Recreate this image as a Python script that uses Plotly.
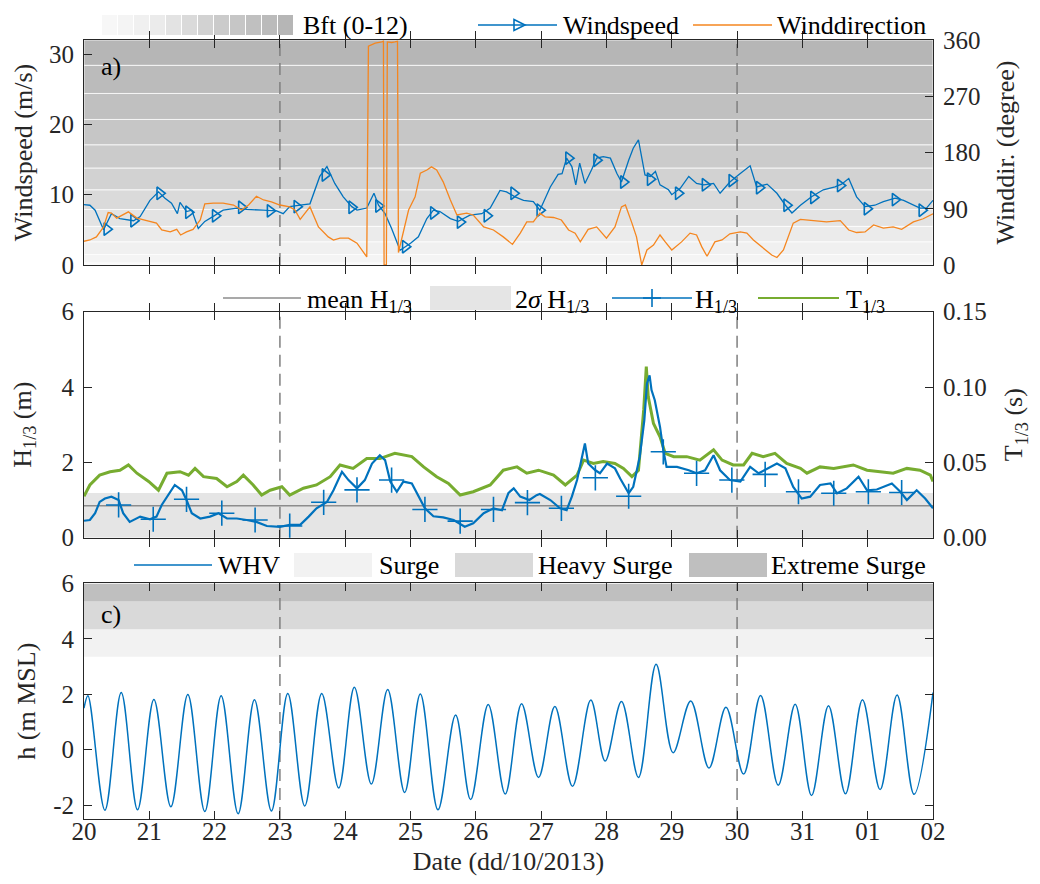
import numpy as np
import pandas as pd
import plotly.graph_objects as go

# ---------------------------------------------------------------- data
START = pd.Timestamp("2013-10-20")
END = pd.Timestamp("2013-11-02")
event_days = [3.0, 10.0]          # dashed vertical lines (23/10 and 30/10)

# a) wind speed (m/s), time in days after 20/10/2013 00:00
ws_day = [0.00, 0.09, 0.17, 0.30, 0.42, 0.55, 0.76, 0.86, 1.01, 1.14,
          1.24, 1.34, 1.43, 1.47, 1.57, 1.65, 1.75, 1.85, 2.01, 2.13,
          2.34, 2.49, 2.75, 2.95, 3.05, 3.15, 3.31, 3.46, 3.61, 3.72,
          3.84, 3.97, 4.10, 4.18, 4.33, 4.44, 4.51, 4.61, 4.71, 4.84,
          5.00, 5.12, 5.25, 5.35, 5.45, 5.61, 5.73, 5.91, 6.09, 6.22,
          6.37, 6.47, 6.60, 6.73, 6.88, 6.98, 7.14, 7.26, 7.32, 7.39,
          7.47, 7.53, 7.59, 7.67, 7.77, 7.85, 7.95, 8.06, 8.16, 8.23,
          8.34, 8.41, 8.49, 8.59, 8.67, 8.75, 8.82, 8.95, 9.00, 9.13,
          9.26, 9.38, 9.49, 9.64, 9.74, 9.89, 10.02, 10.12, 10.20, 10.30,
          10.46, 10.61, 10.74, 10.84, 10.97, 11.14, 11.32, 11.50, 11.60, 11.71,
          11.83, 11.96, 12.11, 12.24, 12.42, 12.55, 12.80, 12.90, 13.00]
ws_val = [8.6, 8.5, 7.8, 5.0, 7.3, 6.6, 6.3, 6.9, 9.2, 10.4,
          9.5, 8.8, 7.3, 8.9, 7.6, 7.8, 5.2, 6.2, 7.1, 7.8,
          8.1, 7.9, 7.8, 7.7, 7.3, 8.3, 8.5, 8.7, 12.6, 14.0,
          11.6, 9.7, 8.3, 7.8, 8.1, 10.2, 8.5, 7.3, 5.2, 2.1,
          3.1, 4.0, 6.6, 7.8, 7.6, 6.6, 6.2, 7.1, 7.3, 8.1,
          10.6, 10.4, 9.7, 9.2, 9.0, 7.8, 11.1, 12.9, 13.0, 15.2,
          14.0, 11.4, 14.5, 11.6, 13.5, 15.2, 15.4, 15.2, 13.0, 11.8,
          14.9, 16.6, 17.8, 12.8, 12.6, 13.3, 11.4, 10.7, 10.0, 10.9,
          12.6, 11.6, 11.4, 11.6, 10.2, 11.8, 12.8, 13.5, 14.1, 11.1,
          11.5, 10.2, 8.5, 7.4, 8.5, 9.7, 10.7, 11.1, 11.5, 12.3,
          9.7, 8.3, 8.5, 9.0, 9.5, 9.2, 8.1, 8.1, 9.2]
ws_mark_day = [0.35, 0.76, 1.16, 1.60, 2.01, 2.41, 2.85, 3.26, 3.69, 4.10,
               4.51, 4.92, 5.35, 5.76, 6.17, 6.58, 6.98, 7.42, 7.85, 8.26,
               8.67, 9.10, 9.51, 9.92, 10.34, 10.76, 11.17, 11.58, 11.99, 12.42,
               12.83]
ws_mark_val = [5.1, 6.3, 10.2, 7.5, 7.0, 8.2, 7.7, 8.3, 12.8, 8.2,
               8.4, 2.6, 7.4, 6.1, 7.0, 10.2, 7.8, 15.2, 14.9, 11.8,
               12.2, 10.2, 11.4, 12.0, 11.0, 8.5, 9.6, 11.3, 8.0, 9.3,
               7.8]

# a) wind direction (degree)
wd_day = [0.00, 0.09, 0.19, 0.30, 0.37, 0.42, 0.50, 0.60, 0.68, 0.81,
          0.96, 1.11, 1.19, 1.32, 1.42, 1.48, 1.57, 1.67, 1.78, 1.85,
          1.98, 2.13, 2.29, 2.41, 2.52, 2.64, 2.75, 2.87, 3.00, 3.15,
          3.23, 3.31, 3.46, 3.59, 3.74, 3.82, 3.92, 4.05, 4.18, 4.28,
          4.33, 4.355, 4.46, 4.56, 4.585, 4.595, 4.63, 4.645, 4.71, 4.76,
          4.80, 4.815, 4.89, 4.97, 5.07, 5.15, 5.25, 5.32, 5.40, 5.50,
          5.61, 5.71, 5.86, 5.96, 6.12, 6.27, 6.42, 6.56, 6.68, 6.78,
          6.88, 6.98, 7.06, 7.19, 7.31, 7.42, 7.52, 7.60, 7.72, 7.85,
          8.00, 8.13, 8.23, 8.29, 8.39, 8.46, 8.54, 8.62, 8.72, 8.82,
          8.90, 9.00, 9.15, 9.28, 9.38, 9.46, 9.54, 9.66, 9.77, 9.89,
          10.05, 10.15, 10.25, 10.40, 10.53, 10.61, 10.71, 10.86, 10.97, 11.17,
          11.37, 11.58, 11.71, 11.83, 11.96, 12.09, 12.24, 12.39, 12.52, 12.70,
          12.85, 13.00]
wd_val = [38, 40, 45, 61, 84, 83, 75, 80, 85, 75,
          71, 67, 56, 53, 57, 48, 53, 57, 72, 98,
          99, 99, 96, 88, 96, 110, 104, 101, 96, 93,
          88, 73, 93, 61, 45, 40, 43, 43, 35, 21,
          13, 350, 355, 357, 358, 0, 0, 357, 356, 357,
          358, 20, 51, 88, 109, 147, 152, 157, 152, 133,
          104, 80, 83, 80, 61, 56, 45, 33, 51, 69,
          69, 83, 77, 76, 72, 56, 51, 37, 57, 61,
          43, 61, 93, 96, 67, 45, 0, 24, 32, 48,
          37, 24, 37, 51, 48, 29, 14, 37, 40, 50,
          53, 51, 40, 27, 16, 12, 24, 67, 73, 71,
          69, 71, 56, 52, 53, 64, 59, 61, 57, 69,
          74, 82]

# Beaufort class limits (m/s)
bft_edges = [0.0, 0.3, 1.5, 3.3, 5.5, 7.9, 10.7, 13.8, 17.1, 20.7, 24.4, 28.4, 32.6]
bft_grays = ["#f7f7f7", "#f4f4f4", "#f0f0f0", "#ebebeb", "#e3e3e3", "#dadada",
             "#d2d2d2", "#cbcbcb", "#c6c6c6", "#c0c0c0", "#bbbbbb", "#b6b6b6"]

# b) significant wave height H1/3 (m)
hs_day = [0.00, 0.09, 0.17, 0.24, 0.32, 0.42, 0.53, 0.60, 0.70, 0.86,
          1.01, 1.11, 1.19, 1.29, 1.39, 1.50, 1.57, 1.65, 1.78, 1.93,
          2.06, 2.19, 2.34, 2.49, 2.64, 2.80, 3.00, 3.15, 3.31, 3.44,
          3.56, 3.72, 3.82, 3.95, 4.05, 4.18, 4.30, 4.41, 4.53, 4.61,
          4.69, 4.79, 4.89, 5.02, 5.12, 5.22, 5.35, 5.50, 5.66, 5.83,
          5.96, 6.12, 6.27, 6.40, 6.50, 6.58, 6.68, 6.82, 6.93, 6.98,
          7.14, 7.29, 7.39, 7.47, 7.55, 7.62, 7.67, 7.72, 7.83, 7.90,
          8.01, 8.13, 8.21, 8.34, 8.41, 8.51, 8.58, 8.62, 8.66, 8.69,
          8.74, 8.82, 8.87, 8.92, 9.08, 9.26, 9.38, 9.51, 9.64, 9.74,
          9.89, 10.05, 10.20, 10.33, 10.46, 10.61, 10.74, 10.86, 10.99, 11.12,
          11.27, 11.43, 11.53, 11.68, 11.86, 11.99, 12.14, 12.37, 12.50, 12.60,
          12.75, 12.88, 13.00]
hs_val = [0.45, 0.47, 0.65, 0.95, 1.04, 1.09, 1.00, 0.65, 0.42, 0.56,
          0.49, 0.56, 0.87, 1.13, 1.40, 1.26, 1.00, 0.65, 0.51, 0.56,
          0.65, 0.51, 0.51, 0.47, 0.42, 0.31, 0.29, 0.34, 0.34, 0.56,
          0.78, 0.95, 1.26, 1.75, 1.53, 1.31, 1.53, 1.97, 2.19, 2.06,
          1.49, 1.22, 1.49, 1.44, 1.09, 0.78, 0.57, 0.54, 0.47, 0.29,
          0.38, 0.65, 0.78, 0.73, 1.19, 1.31, 1.09, 1.00, 1.13, 1.16,
          1.00, 0.78, 0.73, 1.09, 1.53, 2.15, 2.50, 1.97, 1.79, 1.71,
          1.97, 1.84, 1.57, 1.18, 1.35, 2.15, 3.12, 4.09, 4.31, 3.92,
          3.65, 2.94, 2.33, 1.88, 1.88, 1.79, 1.71, 1.79, 2.19, 1.79,
          1.53, 1.49, 1.88, 1.71, 1.84, 1.97, 1.84, 1.35, 1.04, 1.09,
          1.40, 1.44, 1.18, 1.31, 1.62, 1.26, 1.28, 1.44, 1.22, 1.00,
          1.26, 1.04, 0.78]
hs_mark_day = [0.53, 1.06, 1.57, 2.11, 2.62, 3.15, 3.67, 4.18, 4.71, 5.22,
               5.76, 6.27, 6.79, 7.31, 7.83, 8.34, 8.87, 9.38, 9.92, 10.43,
               10.94, 11.48, 12.01, 12.52]
hs_mark_val = [0.87, 0.49, 1.02, 0.65, 0.47, 0.31, 0.94, 1.27, 1.53, 0.75,
               0.44, 0.75, 0.93, 0.78, 1.59, 1.10, 2.28, 1.71, 1.53, 1.68,
               1.22, 1.18, 1.22, 1.20]
hs_mean = 0.85
hs_band = [0.0, 1.19]   # shaded 2-sigma band (clipped at the axis)

# b) wave period T1/3 (s)
tp_day = [0.00, 0.09, 0.24, 0.40, 0.55, 0.68, 0.81, 0.99, 1.14, 1.27,
          1.47, 1.60, 1.70, 1.83, 2.03, 2.19, 2.34, 2.44, 2.59, 2.72,
          2.85, 3.03, 3.15, 3.36, 3.56, 3.77, 3.92, 4.12, 4.33, 4.53,
          4.76, 5.02, 5.20, 5.40, 5.58, 5.76, 5.96, 6.22, 6.42, 6.63,
          6.78, 6.96, 7.19, 7.37, 7.55, 7.65, 7.80, 7.95, 8.13, 8.26,
          8.39, 8.49, 8.57, 8.61, 8.64, 8.72, 8.82, 8.90, 9.03, 9.23,
          9.43, 9.64, 9.77, 9.94, 10.10, 10.23, 10.40, 10.58, 10.76, 10.97,
          11.07, 11.27, 11.48, 11.78, 11.99, 12.24, 12.39, 12.60, 12.80, 12.96,
          13.00]
tp_val = [0.0275, 0.0350, 0.0415, 0.0438, 0.0448, 0.0483, 0.0428, 0.0373, 0.0315, 0.0428,
          0.0438, 0.0415, 0.0460, 0.0405, 0.0393, 0.0338, 0.0373, 0.0415, 0.0350, 0.0283,
          0.0315, 0.0338, 0.0283, 0.0328, 0.0350, 0.0405, 0.0483, 0.0460, 0.0525, 0.0525,
          0.0560, 0.0538, 0.0470, 0.0405, 0.0360, 0.0283, 0.0305, 0.0350, 0.0448, 0.0470,
          0.0428, 0.0448, 0.0415, 0.0350, 0.0415, 0.0515, 0.0493, 0.0505, 0.0493, 0.0460,
          0.0405, 0.0448, 0.0848, 0.1135, 0.0935, 0.0758, 0.0670, 0.0560, 0.0538, 0.0538,
          0.0515, 0.0583, 0.0515, 0.0483, 0.0483, 0.0560, 0.0538, 0.0560, 0.0493, 0.0460,
          0.0428, 0.0470, 0.0460, 0.0483, 0.0448, 0.0438, 0.0428, 0.0460, 0.0448, 0.0415,
          0.0373]

# c) water level WHV (m MSL): high and low waters
wl_day = [0.00, 0.06, 0.32, 0.57, 0.82, 1.07, 1.33, 1.59, 1.85, 2.10,
          2.36, 2.61, 2.87, 3.12, 3.38, 3.64, 3.90, 4.14, 4.40, 4.65,
          4.91, 5.15, 5.42, 5.69, 5.92, 6.19, 6.45, 6.70, 6.96, 7.21,
          7.48, 7.76, 7.98, 8.23, 8.49, 8.76, 9.02, 9.29, 9.57, 9.83,
          10.10, 10.36, 10.63, 10.89, 11.14, 11.40, 11.66, 11.92, 12.19, 12.45,
          12.71, 13.00]
wl_val = [1.50, 1.95, -2.18, 2.06, -2.17, 1.81, -2.06, 1.99, -2.23, 1.95,
          -2.31, 1.80, -2.21, 2.03, -2.03, 2.03, -1.38, 2.25, -1.24, 2.17,
          -1.54, 2.01, -2.17, 1.25, -1.80, 1.63, -1.60, 1.66, -1.00, 1.56,
          -1.32, 1.79, -0.41, 1.74, -1.00, 3.08, -0.11, 1.76, -0.66, 1.53,
          -0.88, 1.96, -1.28, 1.64, -1.65, 1.59, -1.59, 1.80, -1.44, 1.97,
          -1.61, 2.06]
surge_names = ["Surge", "Heavy Surge", "Extreme Surge"]
surge_lo = [3.35, 4.35, 5.35]
surge_hi = [4.35, 5.35, 6.00]
surge_grays = ["#f2f2f2", "#d9d9d9", "#bfbfbf"]

for a_, b_ in [(ws_day, ws_val), (ws_mark_day, ws_mark_val), (wd_day, wd_val),
               (hs_day, hs_val), (hs_mark_day, hs_mark_val), (tp_day, tp_val),
               (wl_day, wl_val)]:
    assert len(a_) == len(b_), (len(a_), len(b_))


def to_time(days):
    return START + pd.to_timedelta(np.asarray(days, dtype=float), unit="D")


# ---------------------------------------------------------------- style
FONT = "Liberation Serif"
INK = "#262626"
BLUE = "#0072BD"
ORANGE = "#F5861F"
GREEN = "#77AC30"
DASH = "#7f7f7f"
TICK_SIZE = 25
LAB_SIZE = 26

# the page body adds an 8 px margin; layout is specified in page pixels
OFF = 8
W, H = 1024, 868
L, R, T, B = 84 - OFF, 933 - OFF, 40 - OFF, 819 - OFF


def PX(x):          # page pixel -> paper x
    return (x - OFF - L) / (R - L)


def PY(y):          # page pixel -> paper y
    return (B - (y - OFF)) / (B - T)


dom_a = [PY(265), 1.0]
dom_b = [PY(537.7), PY(311.7)]
dom_c = [0.0, PY(583.4)]

fig = go.Figure()

# a) wind speed + direction
fig.add_trace(go.Scatter(x=to_time(ws_day), y=ws_val, mode="lines",
                         line=dict(color=BLUE, width=1.3), xaxis="x", yaxis="y",
                         name="Windspeed", showlegend=False))
fig.add_trace(go.Scatter(x=to_time(ws_mark_day), y=ws_mark_val, mode="markers",
                         marker=dict(symbol="triangle-right-open", size=11, color=BLUE,
                                     line=dict(width=1.6, color=BLUE)),
                         xaxis="x", yaxis="y", showlegend=False, hoverinfo="skip"))
fig.add_trace(go.Scatter(x=to_time(wd_day), y=wd_val, mode="lines",
                         line=dict(color=ORANGE, width=1.3), xaxis="x", yaxis="y2",
                         name="Winddirection", showlegend=False))

# b) T1/3 (base, right axis) and H1/3 (overlay, left axis)
fig.add_trace(go.Scatter(x=to_time(tp_day), y=tp_val, mode="lines",
                         line=dict(color=GREEN, width=3), xaxis="x2", yaxis="y3",
                         name="T1/3", showlegend=False))
fig.add_trace(go.Scatter(x=to_time(hs_day), y=hs_val, mode="lines",
                         line=dict(color=BLUE, width=2.2), xaxis="x2", yaxis="y4",
                         name="H1/3", showlegend=False))
fig.add_trace(go.Scatter(x=to_time(hs_mark_day), y=hs_mark_val, mode="markers",
                         marker=dict(symbol="cross-thin-open", size=18, color=BLUE,
                                     line=dict(width=1.6, color=BLUE)),
                         xaxis="x2", yaxis="y4", showlegend=False, hoverinfo="skip"))

# c) water level
fig.add_trace(go.Scatter(x=to_time(wl_day), y=wl_val, mode="lines",
                         line=dict(color=BLUE, width=1.5, shape="spline", smoothing=1.0),
                         xaxis="x3", yaxis="y5", name="WHV", showlegend=False))

shapes = []
# Beaufort background bands
for i, g in enumerate(bft_grays):
    shapes.append(dict(type="rect", xref="x domain", yref="y", x0=0, x1=1,
                       y0=bft_edges[i], y1=min(bft_edges[i + 1], 32),
                       fillcolor=g, line=dict(color="rgba(255,255,255,0.75)", width=1),
                       layer="below"))
# 2 sigma band and mean in b)
shapes.append(dict(type="rect", xref="x2 domain", yref="y4", x0=0, x1=1,
                   y0=hs_band[0], y1=hs_band[1], fillcolor="#e5e5e5",
                   line=dict(width=0), layer="below"))
shapes.append(dict(type="line", xref="x2 domain", yref="y4", x0=0, x1=1,
                   y0=hs_mean, y1=hs_mean, line=dict(color="#8c8c8c", width=1.5),
                   layer="below"))
# surge bands in c)
for lo, hi, g in zip(surge_lo, surge_hi, surge_grays):
    shapes.append(dict(type="rect", xref="x3 domain", yref="y5", x0=0, x1=1,
                       y0=lo, y1=hi, fillcolor=g, line=dict(width=0), layer="below"))
# dashed event lines
for d in event_days:
    t = to_time([d])[0]
    for xr, yr in [("x", "y domain"), ("x2", "y3 domain"), ("x3", "y5 domain")]:
        shapes.append(dict(type="line", xref=xr, yref=yr, x0=t, x1=t, y0=0, y1=1,
                           line=dict(color=DASH, width=1.5, dash="12px,7px"),
                           layer="below"))

# ---------------------------------------------------------------- manual legends
annotations = []


def leg_text(x, y, text):
    annotations.append(dict(xref="paper", yref="paper", x=PX(x), y=PY(y), text=text,
                            showarrow=False, xanchor="left", yanchor="middle",
                            font=dict(family=FONT, size=LAB_SIZE, color="black")))


def leg_line(x0, x1, y0, color, width, y1=None):
    shapes.append(dict(type="line", xref="paper", yref="paper", x0=PX(x0), x1=PX(x1),
                       y0=PY(y0), y1=PY(y0 if y1 is None else y1),
                       line=dict(color=color, width=width)))


def leg_box(x0, x1, y0, y1, color):
    shapes.append(dict(type="rect", xref="paper", yref="paper", x0=PX(x0), x1=PX(x1),
                       y0=PY(y1), y1=PY(y0), fillcolor=color, line=dict(width=0)))


# legend a)
for i, g in enumerate(bft_grays):
    leg_box(102 + i * 16, 102 + (i + 1) * 16 - 1, 15, 35, g)
leg_text(301, 25, "Bft (0-12)")
leg_line(478, 557, 25, BLUE, 1.3)
shapes.append(dict(type="path", xref="paper", yref="paper",
                   path=f"M {PX(514)},{PY(19.5)} L {PX(525)},{PY(25)} L {PX(514)},{PY(30.5)} Z",
                   line=dict(color=BLUE, width=1.6)))
leg_text(561, 25, "Windspeed")
leg_line(693, 772, 25, ORANGE, 1.3)
leg_text(775, 25, "Winddirection")

# legend b)
yb = 298
leg_line(223, 301, yb, "#8c8c8c", 1.5)
leg_text(305, yb + 3, "mean H<sub>1/3</sub>")
leg_box(430, 511, 286, 310, "#e5e5e5")
leg_text(513, yb + 3, "2<i>σ</i> H<sub>1/3</sub>")
leg_line(612, 692, yb, BLUE, 1.5)
leg_line(652, 652, yb - 9, BLUE, 1.6, yb + 9)
leg_line(643, 661, yb, BLUE, 1.6)
leg_text(693, yb + 3, "H<sub>1/3</sub>")
leg_line(758, 839, yb, GREEN, 2)
leg_text(844, yb + 3, "T<sub>1/3</sub>")

# legend c)
yc = 565
leg_line(134, 212, yc, BLUE, 1.5)
leg_text(216, yc, "WHV")
for (x0, x1, tx), nm, g in zip([(294, 372, 377), (455, 533, 536), (689, 767, 769)],
                               surge_names, surge_grays):
    leg_box(x0, x1, 553, 577, g)
    leg_text(tx, yc, nm)

# panel labels
for lab, yy in [("a)", 67), ("c)", 614)]:
    annotations.append(dict(xref="paper", yref="paper", x=PX(99), y=PY(yy), text=lab,
                            showarrow=False, xanchor="left", yanchor="middle",
                            font=dict(family=FONT, size=LAB_SIZE, color="black")))

# ---------------------------------------------------------------- axes
tickfont = dict(family=FONT, size=TICK_SIZE, color=INK)
titlefont = dict(family=FONT, size=LAB_SIZE, color=INK)
base = dict(showline=True, linecolor=INK, linewidth=1, ticks="inside", ticklen=8,
            tickcolor=INK, tickwidth=1, showgrid=False, zeroline=False,
            tickfont=tickfont)
xcommon = dict(base, type="date", range=[START, END], tick0=START, dtick=86400000,
               tickformat="%d", mirror="allticks")

fig.update_layout(
    width=W, height=H,
    margin=dict(l=L, r=W - R, t=T, b=H - B, autoexpand=False),
    paper_bgcolor="white", plot_bgcolor="white",
    font=dict(family=FONT, size=LAB_SIZE, color=INK),
    showlegend=False,
    xaxis=dict(xcommon, anchor="y", domain=[0, 1], showticklabels=False),
    xaxis2=dict(xcommon, anchor="y3", domain=[0, 1], matches="x", showticklabels=False),
    xaxis3=dict(xcommon, anchor="y5", domain=[0, 1], matches="x", showticklabels=True,
                ticklabelstandoff=-10,
                title=dict(text="Date (dd/10/2013)", font=titlefont, standoff=11)),
    yaxis=dict(base, domain=dom_a, anchor="x", range=[0, 32], tickvals=[0, 10, 20, 30],
               ticklabelstandoff=4,
               title=dict(text="Windspeed (m/s)", font=titlefont, standoff=8)),
    yaxis2=dict(base, overlaying="y", side="right", anchor="x", range=[0, 360],
                tickvals=[0, 90, 180, 270, 360], ticklabelstandoff=4,
                title=dict(text="Winddir. (degree)", font=titlefont, standoff=16)),
    yaxis3=dict(base, domain=dom_b, anchor="x2", side="right", range=[0, 0.15],
                tickvals=[0, 0.05, 0.10, 0.15], tickformat=".2f", ticklabelstandoff=4,
                title=dict(text="T<sub>1/3</sub> (s)", font=titlefont, standoff=18)),
    yaxis4=dict(base, overlaying="y3", side="left", anchor="x2", range=[0, 6],
                tickvals=[0, 2, 4, 6], ticklabelstandoff=4,
                title=dict(text="H<sub>1/3</sub> (m)", font=titlefont, standoff=22)),
    yaxis5=dict(base, domain=dom_c, anchor="x3", range=[-2.5, 6], mirror="allticks",
                tickvals=[-2, 0, 2, 4, 6], ticktext=["-2", "0", "2", "4", "6"],
                ticklabelstandoff=4,
                title=dict(text="h (m MSL)", font=titlefont, standoff=10)),
    shapes=shapes,
    annotations=annotations,
)

fig.write_html("out.html")
